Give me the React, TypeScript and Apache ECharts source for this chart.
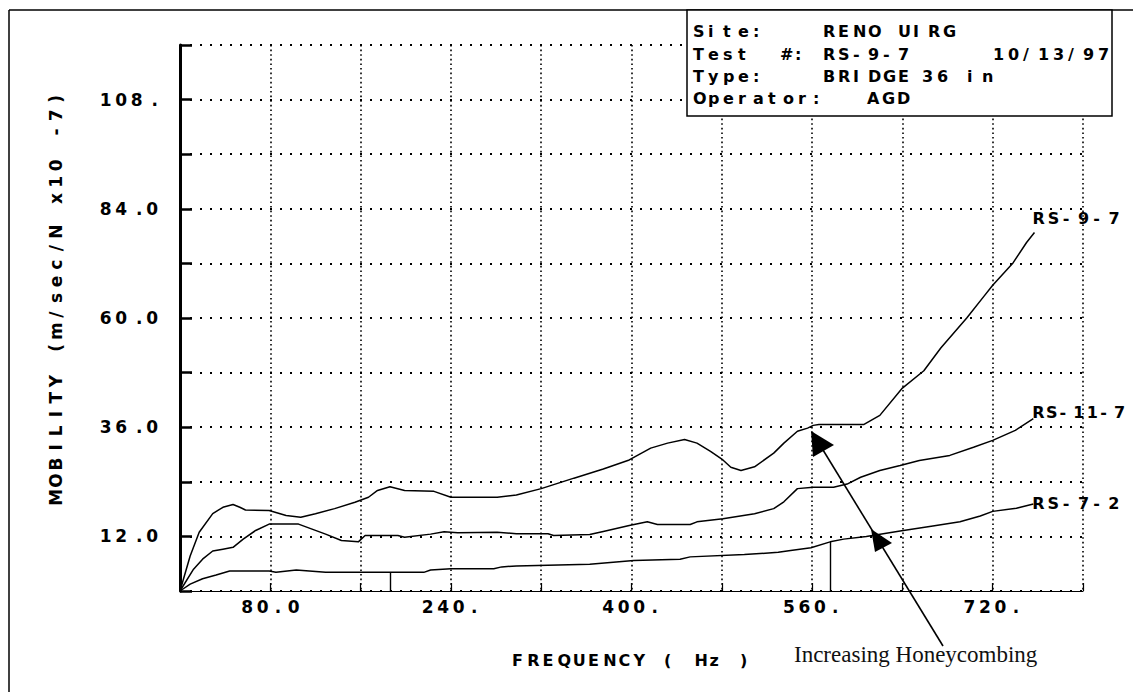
import React, { useEffect, useRef } from "react";
import * as echarts from "echarts";

// ---------- data ----------
const freq97 = [0, 9, 17, 29, 38, 47, 53, 58, 79, 94, 107, 120, 137, 155, 167, 175, 186, 199, 225, 240, 281, 298, 320, 349, 375, 398, 417, 432, 447, 458, 470, 481, 488, 497, 509, 526, 535, 547, 556, 561, 566, 606, 620, 640, 659, 674, 697, 712, 720, 738, 750, 757];
const val97 = [0, 7.7, 12.9, 17, 18.4, 19.0, 18.4, 17.8, 17.7, 16.6, 16.2, 17, 18.1, 19.5, 20.6, 22.1, 22.9, 22.1, 21.9, 20.6, 20.6, 21.1, 22.5, 24.8, 26.8, 28.8, 31.4, 32.5, 33.3, 32.5, 30.7, 28.8, 27.2, 26.5, 27.3, 30.3, 32.5, 35.1, 35.8, 36.4, 36.6, 36.6, 38.6, 44.6, 48.4, 53.4, 60, 64.7, 67.2, 72.1, 76.6, 78.8];

const freq117 = [0, 12, 20, 29, 38, 47, 56, 67, 79, 105, 117, 129, 143, 158, 164, 193, 199, 222, 234, 246, 281, 298, 326, 331, 363, 375, 398, 414, 423, 452, 458, 481, 509, 526, 535, 547, 561, 579, 591, 603, 620, 638, 655, 682, 703, 720, 740, 756];
const val117 = [0, 4.8, 7, 8.8, 9.2, 9.6, 11.4, 13.3, 14.7, 14.7, 13.6, 12.5, 11.1, 10.8, 12.2, 12.2, 11.8, 12.5, 13, 12.8, 12.9, 12.6, 12.6, 12.2, 12.4, 13.1, 14.4, 15.2, 14.6, 14.6, 15.2, 15.9, 17, 18.1, 19.6, 22.5, 22.8, 22.8, 23.5, 25, 26.5, 27.6, 28.7, 29.8, 31.6, 33.1, 35.3, 37.9];

const freq72 = [0, 9, 20, 32, 44, 79, 85, 103, 129, 216, 222, 240, 278, 285, 298, 363, 402, 443, 452, 500, 530, 541, 559, 576, 588, 608, 638, 667, 691, 709, 720, 741, 756];
const val72 = [0, 1.5, 2.7, 3.5, 4.4, 4.4, 4.1, 4.6, 4.1, 4.1, 4.6, 4.9, 4.9, 5.3, 5.5, 5.9, 6.7, 7.0, 7.5, 8.0, 8.5, 8.9, 9.5, 10.8, 11.4, 12.0, 13.2, 14.3, 15.2, 16.5, 17.5, 18.2, 19.1];

const seriesNames = ["RS-9-7", "RS-11-7", "RS-7-2"];
const cursorFreqs = [186, 576];
const cursorVals = [4.1, 10.8];

const yTickValues = [12, 36, 60, 84, 108];
const yTickLabels = ["12.0", "36.0", "60.0", "84.0", "108."];
const xTickValues = [80, 240, 400, 560, 720];
const xTickLabels = ["80.0", "240.", "400.", "560.", "720."];

const infoRows = [
  ["Site:", "RENO UIRG"],
  ["Test", "#:", "RS-9-7", "10/13/97"],
  ["Type:", "BRIDGE", "36 in"],
  ["Operator:", "AGD"],
];
const yTitle = "MOBILITY (m/sec/N x10 -7)";
const xTitle = "FREQUENCY ( Hz )";
const note = "Increasing Honeycombing";

// ---------- helpers ----------
const FONT = "DejaVu Sans";
const cellStyle = (w: number, size = 17) => ({
  width: w,
  fontFamily: FONT,
  fontWeight: "bold" as const,
  fontSize: size,
  color: "#000",
});
const cells = (s: string) =>
  s
    .split("")
    .map((ch) => `{c|${ch}}`)
    .join("");

const pairs = (xs: number[], ys: number[]) => xs.map((x, i) => [x, ys[i]]);

export default function App() {
  const ref = useRef<HTMLDivElement>(null);

  useEffect(() => {
    if (!ref.current) return;
    const chart = echarts.init(ref.current, undefined, { renderer: "svg" });

    const dataSets = [pairs(freq97, val97), pairs(freq117, val117), pairs(freq72, val72)];
    const labelOffsets = [
      [-2, -14],
      [-1, -6],
      [-1, -1],
    ];
    const labelCells = [15.2, 13.6, 15.2];

    const series: any[] = dataSets.map((d, i) => ({
      type: "line",
      name: seriesNames[i],
      data: d,
      showSymbol: false,
      symbol: "none",
      lineStyle: { color: "#000", width: 1.5 },
      clip: false,
      endLabel: {
        show: true,
        distance: 0,
        offset: labelOffsets[i],
        formatter: () => cells(seriesNames[i]),
        rich: { c: cellStyle(labelCells[i], 16) },
        align: "left",
        verticalAlign: "middle",
      },
      markLine:
        i === 2
          ? {
              symbol: "none",
              silent: true,
              label: { show: false },
              lineStyle: { color: "#000", type: "solid", width: 1.4 },
              data: cursorFreqs.map((f, k) => [{ coord: [f, 0] }, { coord: [f, cursorVals[k]] }]),
            }
          : undefined,
    }));

    const rowYs = [31, 54, 76.5, 98.5];
    const colXs = [
      [693, 823],
      [693, 780, 823, 993],
      [693, 823, 922],
      [693, 867],
    ];
    const infoTexts: any[] = [];
    infoRows.forEach((row, r) =>
      row.forEach((t, k) =>
        infoTexts.push({
          type: "text",
          x: colXs[r][k],
          y: rowYs[r],
          z: 102,
          style: {
            text: cells(t),
            rich: { c: cellStyle(15, 16) },
            verticalAlign: "middle",
            align: "left",
          },
        })
      )
    );

    chart.setOption({
      animation: false,
      backgroundColor: "#fff",
      grid: { left: 180, top: 45, right: 50, bottom: 101, containLabel: false },
      xAxis: {
        type: "value",
        min: 0,
        max: 800,
        interval: 80,
        axisLine: { show: true, lineStyle: { color: "#000", width: 1.2 } },
        axisTick: { show: true, inside: true, length: 8, lineStyle: { color: "#000", width: 1.2 } },
        splitLine: { show: true, lineStyle: { color: "#000", width: 1.6, type: [1.6, 3] } },
        axisLabel: {
          margin: 7,
          formatter: (v: number) => {
            const k = xTickValues.indexOf(v);
            return k >= 0 ? cells(xTickLabels[k]) : "";
          },
          rich: { c: cellStyle(15.5) },
        },
      },
      yAxis: {
        type: "value",
        min: 0,
        max: 120,
        interval: 12,
        axisLine: { show: true, lineStyle: { color: "#000", width: 3 } },
        axisTick: { show: true, inside: true, length: 12, lineStyle: { color: "#000", width: 2.5 } },
        splitLine: { show: true, lineStyle: { color: "#000", width: 1.8, type: [2, 8] } },
        axisLabel: {
          margin: 22,
          formatter: (v: number) => {
            const k = yTickValues.indexOf(v);
            return k >= 0 ? cells(yTickLabels[k]) : "";
          },
          rich: { c: cellStyle(15.5) },
        },
      },
      series,
      graphic: [
        // outer frame
        { type: "line", z: 101, shape: { x1: 9, y1: 10, x2: 1133, y2: 10 }, style: { stroke: "#000", lineWidth: 1.5 } },
        { type: "line", z: 101, shape: { x1: 9, y1: 10, x2: 9, y2: 692 }, style: { stroke: "#000", lineWidth: 1.5 } },
        // info box
        {
          type: "rect",
          z: 101,
          shape: { x: 687, y: 10, width: 425, height: 106 },
          style: { fill: "#fff", stroke: "#000", lineWidth: 1.5 },
        },
        ...infoTexts,
        // y title
        {
          type: "text",
          x: 56,
          y: 298,
          rotation: Math.PI / 2,
          z: 102,
          style: {
            text: cells(yTitle),
            rich: { c: cellStyle(16.6, 17) },
            align: "center",
            verticalAlign: "middle",
          },
        },
        // x title
        {
          type: "text",
          x: 512,
          y: 660,
          z: 102,
          style: {
            text: cells(xTitle),
            rich: { c: cellStyle(15.2, 16) },
            align: "left",
            verticalAlign: "middle",
          },
        },
        // annotation
        {
          type: "text",
          x: 794,
          y: 654,
          z: 102,
          style: {
            text: note,
            font: '23px "Liberation Serif"',
            fill: "#111",
            align: "left",
            verticalAlign: "middle",
          },
        },
        { type: "line", z: 103, shape: { x1: 812, y1: 432, x2: 943, y2: 646 }, style: { stroke: "#000", lineWidth: 1.6 } },
        {
          type: "polygon",
          z: 103,
          shape: { points: [[811, 431], [834, 445], [813, 457]] },
          style: { fill: "#000" },
        },
        {
          type: "polygon",
          z: 103,
          shape: { points: [[871, 529], [892, 543], [875, 552]] },
          style: { fill: "#000" },
        },
      ],
    });

    return () => chart.dispose();
  }, []);

  return (
    <div
      ref={ref}
      style={{ position: "absolute", left: 0, top: 0, width: 1133, height: 692, background: "#fff" }}
    />
  );
}
